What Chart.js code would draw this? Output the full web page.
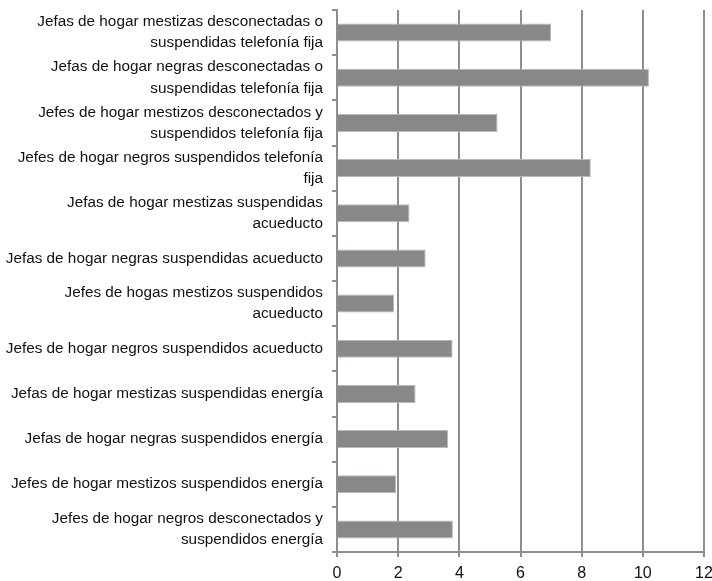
<!DOCTYPE html>
<html>
<head>
<meta charset="utf-8">
<script src="https://cdn.jsdelivr.net/npm/chart.js@4"></script>
<style>
  html, body { margin: 0; padding: 0; background: #fff; }
  #wrap { width: 712px; height: 581px; }
</style>
</head>
<body>
<div id="wrap"><canvas id="myChart"></canvas></div>
<script>
// categories (already split into the two-line layout of the original)
const categories = [
  ['Jefas de hogar mestizas desconectadas o', 'suspendidas telefonía fija'],
  ['Jefas de hogar negras desconectadas o', 'suspendidas telefonía fija'],
  ['Jefes de hogar mestizos desconectados y', 'suspendidos telefonía fija'],
  ['Jefes de hogar negros suspendidos telefonía', 'fija'],
  ['Jefas de hogar mestizas suspendidas', 'acueducto'],
  'Jefas de hogar negras suspendidas acueducto',
  ['Jefes de hogas mestizos suspendidos', 'acueducto'],
  'Jefes de hogar negros suspendidos acueducto',
  'Jefas de hogar mestizas suspendidas energía',
  'Jefas de hogar negras suspendidos energía',
  'Jefes de hogar mestizos suspendidos energía',
  ['Jefes de hogar negros desconectados y', 'suspendidos energía']
];

// values
const values = [7.0, 10.2, 5.25, 8.3, 2.37, 2.9, 1.87, 3.78, 2.57, 3.63, 1.93, 3.79];

// x axis ticks
const xMin = 0;
const xMax = 12;
const xStep = 2;

const gridGray = '#8e8e8e';

var ctx = document.getElementById('myChart').getContext('2d');
var chart = new Chart(ctx, {
  type: 'bar',
  data: {
    labels: categories,
    datasets: [{
      data: values,
      backgroundColor: '#878889',
      borderColor: '#b9b9ba',
      borderWidth: 1,
      barPercentage: 0.4,
      categoryPercentage: 1.0
    }]
  },
  options: {
    indexAxis: 'y',
    responsive: true,
    maintainAspectRatio: false,
    animation: false,
    layout: { padding: { top: 10, right: 8, left: 0, bottom: 0 } },
    plugins: {
      legend: { display: false },
      tooltip: { enabled: false }
    },
    scales: {
      x: {
        min: xMin,
        max: xMax,
        ticks: {
          stepSize: xStep,
          color: '#111',
          font: { family: 'Liberation Sans', size: 16 },
          padding: 7
        },
        grid: {
          color: gridGray,
          lineWidth: 2,
          tickLength: 5,
          drawTicks: true
        },
        border: { color: gridGray, width: 2 },
        afterFit: function (scale) {
          scale.height = 29;
          scale.paddingLeft = 0;
          scale.paddingRight = 0;
        }
      },
      y: {
        ticks: {
          color: '#111',
          font: { family: 'Liberation Sans', size: 15.3, lineHeight: 1.38 },
          padding: 9,
          autoSkip: false
        },
        grid: {
          drawOnChartArea: false,
          color: gridGray,
          lineWidth: 2,
          tickLength: 5
        },
        border: { color: gridGray, width: 2 },
        afterFit: function (scale) {
          scale.width = 337;
          scale.paddingTop = 0;
          scale.paddingBottom = 0;
        }
      }
    }
  }
});
</script>
</body>
</html>
